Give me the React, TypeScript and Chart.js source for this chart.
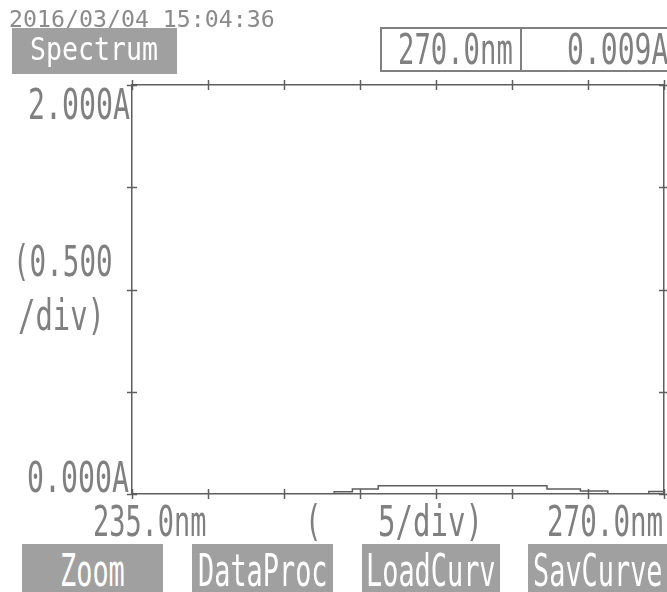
import React, { useEffect, useRef } from "react";
import { Chart, registerables } from "chart.js";

Chart.register(...registerables);

// ---- data ----
const wavelengthsNm = [235, 248.3, 249.5, 251.2, 262.3, 264.5, 266.3, 269.0, 270];
const absorbanceA = [0.0, 0.011, 0.024, 0.04, 0.024, 0.015, 0.0, 0.012, 0.012];

const xMin = 235;
const xMax = 270;
const xStep = 5;
const yMin = 0;
const yMax = 2;
const yStep = 0.5;

// ---- texts ----
const timestamp = "2016/03/04 15:04:36";
const modeLabel = "Spectrum";
const cursorWavelength = "270.0nm";
const cursorAbsorbance = "0.009A";
const yAxisLabels = ["2.000A", "(0.500", "/div)", "0.000A"];
const xAxisLabels = ["235.0nm", "(", "5/div)", "270.0nm"];
const menuButtons = ["Zoom", "DataProc", "LoadCurv", "SavCurve"];

const LINE = "#5e5e5e";
const TEXT = "#808080";
const BTN = "#a0a0a0";
const FONT = '"DejaVu Sans Mono", monospace';

type LcdProps = {
  text: string;
  left: number;
  top: number; // top of capitals/digits
  cap: number; // capital height
  cell: number; // advance per character
  color?: string;
};

function Lcd({ text, left, top, cap, cell, color = TEXT }: LcdProps) {
  const fs = cap / 0.729;
  const sx = cell / (0.602 * fs);
  return (
    <div
      style={{
        position: "absolute",
        left,
        top: top - 0.117 * fs,
        fontFamily: FONT,
        fontSize: fs,
        lineHeight: `${fs}px`,
        whiteSpace: "pre",
        color,
        transform: `scaleX(${sx})`,
        transformOrigin: "left top",
      }}
    >
      {text}
    </div>
  );
}

const crossTicks = {
  id: "crossTicks",
  afterDraw(chart: any) {
    const { ctx, chartArea: a, scales } = chart;
    const L = 5;
    ctx.save();
    ctx.strokeStyle = LINE;
    ctx.lineWidth = 1.5;
    for (const id of ["x", "x2"]) {
      const s = scales[id];
      const y = id === "x" ? a.bottom : a.top;
      s.ticks.forEach((t: any) => {
        const px = Math.round(s.getPixelForValue(t.value)) + 0.5;
        ctx.beginPath();
        ctx.moveTo(px, y - L);
        ctx.lineTo(px, y + L);
        ctx.stroke();
      });
    }
    for (const id of ["y", "y2"]) {
      const s = scales[id];
      const x = id === "y" ? a.left : a.right;
      s.ticks.forEach((t: any) => {
        const py = Math.round(s.getPixelForValue(t.value)) + 0.5;
        ctx.beginPath();
        ctx.moveTo(x - L, py);
        ctx.lineTo(x + L, py);
        ctx.stroke();
      });
    }
    ctx.restore();
  },
};

function axis(position: string, min: number, max: number, step: number, size: number, horizontal: boolean) {
  return {
    type: "linear",
    position,
    min,
    max,
    ticks: { stepSize: step, display: false },
    grid: { drawOnChartArea: false, drawTicks: false },
    border: { color: LINE, width: 1.5 },
    afterFit: (s: any) => {
      if (horizontal) s.height = size;
      else s.width = size;
    },
  };
}

function SpectrumChart() {
  const ref = useRef<HTMLCanvasElement>(null);
  useEffect(() => {
    if (!ref.current) return;
    const chart = new Chart(ref.current, {
      type: "line",
      data: {
        datasets: [
          {
            data: wavelengthsNm.map((x, i) => ({ x, y: absorbanceA[i] })),
            stepped: "before",
            borderColor: LINE,
            borderWidth: 1.5,
            pointRadius: 0,
            fill: false,
          },
        ],
      },
      options: {
        animation: false,
        responsive: false,
        devicePixelRatio: 1,
        layout: { padding: { top: 85, bottom: 98, left: 0, right: 3 } },
        scales: {
          x: axis("bottom", xMin, xMax, xStep, 0, true),
          x2: axis("top", xMin, xMax, xStep, 0, true),
          y: axis("left", yMin, yMax, yStep, 132, false),
          y2: axis("right", yMin, yMax, yStep, 0, false),
        } as any,
        plugins: { legend: { display: false }, tooltip: { enabled: false } },
      },
      plugins: [crossTicks],
    } as any);
    return () => chart.destroy();
  }, []);
  return <canvas ref={ref} width={667} height={592} style={{ position: "absolute", left: 0, top: 0 }} />;
}

const CAP = 31;
const CELL = 16.6;

export default function App() {
  const buttonBoxes = [
    [22, 163],
    [192, 333],
    [362, 500],
    [528, 670],
  ];
  return (
    <div
      style={{
        position: "absolute",
        left: 0,
        top: 0,
        width: 667,
        height: 592,
        background: "#fff",
        overflow: "hidden",
      }}
    >
      <SpectrumChart />
      {/* header */}
      <Lcd text={timestamp} left={9} top={10} cap={17} cell={14} color="#8a8a8a" />
      <div style={{ position: "absolute", left: 12, top: 28, width: 165, height: 46, background: BTN }} />
      <Lcd text={modeLabel} left={30} top={38} cap={23} cell={16} color="#fff" />
      <div style={{ position: "absolute", left: 380, top: 27, width: 142, height: 45, border: `2px solid #808080`, boxSizing: "border-box" }} />
      <div style={{ position: "absolute", left: 520, top: 27, width: 160, height: 45, border: `2px solid #808080`, boxSizing: "border-box" }} />
      <Lcd text={cursorWavelength} left={398} top={34} cap={CAP} cell={16.4} />
      <Lcd text={cursorAbsorbance} left={567} top={34} cap={CAP} cell={16.9} />
      {/* y axis labels */}
      <Lcd text={yAxisLabels[0]} left={28} top={89} cap={CAP} cell={17} />
      <Lcd text={yAxisLabels[1]} left={13} top={246} cap={CAP} cell={CELL} />
      <Lcd text={yAxisLabels[2]} left={18} top={300} cap={CAP} cell={17.4} />
      <Lcd text={yAxisLabels[3]} left={27} top={462} cap={CAP} cell={17} />
      {/* x axis labels */}
      <Lcd text={xAxisLabels[0]} left={93} top={506} cap={CAP} cell={16.2} />
      <Lcd text={xAxisLabels[1]} left={305} top={506} cap={CAP} cell={CELL} />
      <Lcd text={xAxisLabels[2]} left={378} top={506} cap={CAP} cell={17.5} />
      <Lcd text={xAxisLabels[3]} left={547} top={506} cap={CAP} cell={16.6} />
      {/* menu buttons */}
      {menuButtons.map((b, i) => {
        const [l, r] = buttonBoxes[i];
        const cell = 16.2;
        const w = b.length * cell;
        return (
          <React.Fragment key={b}>
            <div style={{ position: "absolute", left: l, top: 544, width: r - l, height: 60, background: BTN }} />
            <Lcd text={b} left={(l + Math.min(r, 667)) / 2 - w / 2} top={554} cap={32} cell={cell} color="#fff" />
          </React.Fragment>
        );
      })}
    </div>
  );
}
